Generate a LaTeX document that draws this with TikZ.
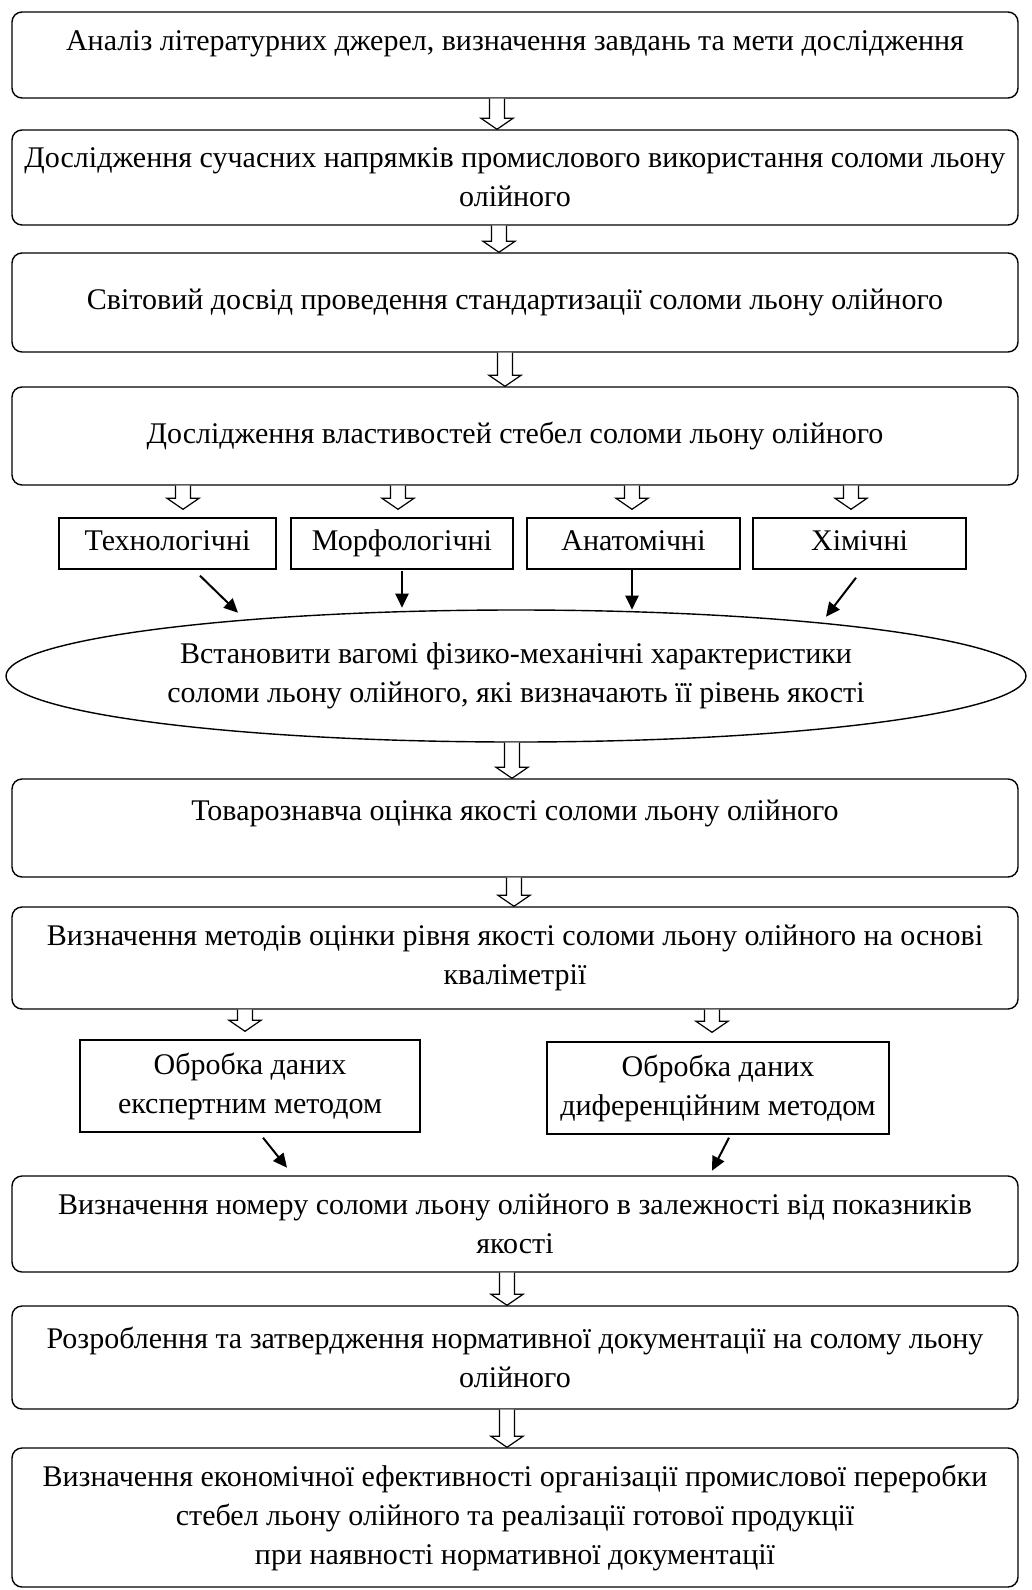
\documentclass[tikz,border=0pt]{standalone}
\usepackage{fontspec}
\setmainfont{Liberation Serif}
\usetikzlibrary{calc,shapes.geometric,arrows.meta}
\newcommand{\hollowdown}[2]{%
  \draw[line width=0.6pt,fill=white] let \p1=(#1), \p2=(#2) in
    (\x1-3.75pt,\y1) -- (\x1-3.75pt,\y2+5.5pt) -- (\x1-8pt,\y2+5.5pt) -- (\x1,\y2)
    -- (\x1+8pt,\y2+5.5pt) -- (\x1+3.75pt,\y2+5.5pt) -- (\x1+3.75pt,\y1);}

\begin{document}
\begin{tikzpicture}[x=0.5pt,y=-0.5pt,
  every node/.style={font=\fontsize{15pt}{19.5pt}\selectfont},
  stage/.style={draw,rounded corners=5pt,line width=0.7pt,minimum width=503pt,inner sep=0pt,align=center},
  prop/.style={draw,line width=0.7pt,minimum height=25.5pt,inner sep=0pt,text height=10.5pt,text depth=3.5pt},
  method/.style={draw,line width=0.7pt,minimum width=170pt,minimum height=46pt,inner sep=0pt,align=center},
  solidarrow/.style={line width=1pt,-{Triangle[length=7pt,width=6.5pt]}}]
\useasboundingbox (0,0) rectangle (1032,1590);

\node[stage,minimum height=43pt,text height=19pt,text depth=24pt] (b1) at (515,55)
  {Аналіз літературних джерел, визначення завдань та мети дослідження};
\node[stage,minimum height=47.5pt] (b2) at (515,177.5)
  {Дослідження сучасних напрямків промислового використання соломи льону\\олійного};
\node[stage,minimum height=49.5pt] (b3) at (515,302.5)
  {Світовий досвід проведення стандартизації соломи льону олійного};
\node[stage,minimum height=49pt] (b4) at (515,436)
  {Дослідження властивостей стебел соломи льону олійного};

\node[prop,minimum width=108.5pt] (t1) at (167.5,543.5) {Технологічні};
\node[prop,minimum width=111pt] (t2) at (402,543.5) {Морфологічні};
\node[prop,minimum width=106.5pt] (t3) at (633.5,543.5) {Анатомічні};
\node[prop,minimum width=106.5pt] (t4) at (859.5,543.5) {Хімічні};

\node[draw,ellipse,line width=0.7pt,minimum width=510pt,minimum height=66pt,inner sep=0pt,align=center] (ell) at (516,676)
  {Встановити вагомі фізико-механічні характеристики\\соломи льону олійного, які визначають її рівень якості};

\node[stage,minimum height=49pt,text height=20.5pt,text depth=28.5pt] (b5) at (515,828)
  {Товарознавча оцінка якості соломи льону олійного};
\node[stage,minimum height=51pt] (b6) at (515,958)
  {Визначення методів оцінки рівня якості соломи льону олійного на основі\\кваліметрії};

\node[method] (o1) at (250,1086) {Обробка даних\\експертним методом};
\node[method,minimum width=171pt] (o2) at (718,1088) {Обробка даних\\диференційним методом};

\node[stage,minimum height=48pt] (b7) at (515,1224)
  {Визначення номеру соломи льону олійного в залежності від показників\\якості};
\node[stage,minimum height=51.5pt] (b8) at (515,1357.5)
  {Розроблення та затвердження нормативної документації на солому льону\\олійного};
\node[stage,minimum height=69.5pt] (b9) at (515,1517.5)
  {Визначення економічної ефективності організації промислової переробки\\стебел льону олійного та реалізації готової продукції\\при наявності нормативної документації};

\hollowdown{$(b1.south)+(-18,0)$}{b2.north}
\hollowdown{$(b2.south)+(-16,0)$}{b3.north}
\hollowdown{$(b3.south)+(-10,0)$}{b4.north}
\hollowdown{$(t1.north |- b4.south)+(15.5,0)$}{$(t1.north)+(0,-8)$}
\hollowdown{$(t2.north |- b4.south)+(-4,0)$}{$(t2.north)+(0,-8)$}
\hollowdown{$(t3.north |- b4.south)+(-1.5,0)$}{$(t3.north)+(0,-8)$}
\hollowdown{$(t4.north |- b4.south)+(-8.5,0)$}{$(t4.north)+(0,-8)$}

\draw[solidarrow] ($(t1.south)+(32.5,6)$) -- ($(t1.south)+(70.5,43)$);
\draw[solidarrow] ($(t2.south)+(0,1)$) -- ($(t2.south)+(0,38)$);
\draw[solidarrow] ($(t3.south)+(-1.5,0)$) -- ($(t3.south)+(-1.5,40)$);
\draw[solidarrow] ($(t4.south)+(-3.5,8)$) -- ($(t4.south)+(-33.5,47)$);

\hollowdown{$(ell.south)+(-4,0)$}{b5.north}
\hollowdown{$(b5.south)+(-1,0)$}{b6.north}
\hollowdown{$(o1.north |- b6.south)+(-5,0)$}{$(o1.north)+(0,-8)$}
\hollowdown{$(o2.north |- b6.south)+(-6,0)$}{$(o2.north)+(0,-9)$}

\draw[solidarrow] ($(o1.south)+(13,5)$) -- ($(o1.south)+(37,35)$);
\draw[solidarrow] ($(o2.south)+(11,3)$) -- ($(o2.south)+(-6,36)$);

\hollowdown{$(b7.south)+(-8,0)$}{b8.north}
\hollowdown{$(b8.south)+(-8,0)$}{b9.north}
\end{tikzpicture}
\end{document}
